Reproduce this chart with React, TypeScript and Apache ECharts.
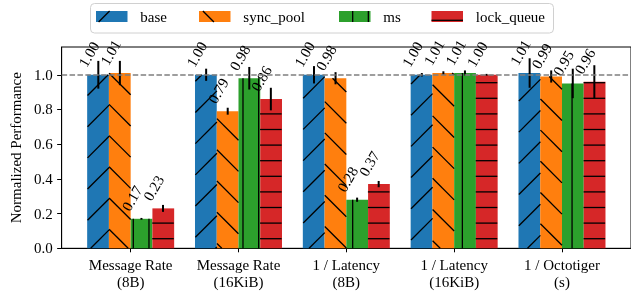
import React, { useEffect, useRef } from "react";
import * as echarts from "echarts";

const categories = [
  "Message Rate\n(8B)",
  "Message Rate\n(16KiB)",
  "1 / Latency\n(8B)",
  "1 / Latency\n(16KiB)",
  "1 / Octotiger\n(s)",
];
const seriesNames = ["base", "sync_pool", "ms", "lock_queue"];
const baseValues = [1.0, 1.0, 1.0, 1.0, 1.01];
const syncPoolValues = [1.01, 0.79, 0.98, 1.01, 0.99];
const msValues = [0.17, 0.98, 0.28, 1.01, 0.95];
const lockQueueValues = [0.23, 0.86, 0.37, 1.0, 0.96];
const baseErrors = [0.08, 0.035, 0.05, 0.01, 0.085];
const syncPoolErrors = [0.07, 0.02, 0.035, 0.01, 0.035];
const msErrors = [0.005, 0.065, 0.012, 0.015, 0.085];
const lockQueueErrors = [0.02, 0.065, 0.018, 0.005, 0.095];
const yTicks = [0, 0.2, 0.4, 0.6, 0.8, 1.0];

const colors = ["#1f77b4", "#ff7f0e", "#2ca02c", "#d62728"];
const FONT = "Liberation Serif";

// hatch geometry (pixel space, anchored to page origin): [period, phase]
const HATCH = [
  [31.2, 27], // '/'
  [31.2, 26.5], // '\'
  [15.67, 7.94], // '|'
  [15.6, 4.7], // '-'
];

function hatchSegments(kind: number, x0: number, x1: number, yt: number, yb: number) {
  const [per, ph] = HATCH[kind];
  const segs: number[][] = [];
  const first = (lo: number) => ph + Math.ceil((lo - ph) / per) * per;
  if (kind === 0) {
    for (let c = first(x0 + yt); c <= x1 + yb; c += per) {
      const xa = Math.max(x0, c - yb);
      const xb = Math.min(x1, c - yt);
      if (xb > xa) segs.push([xa, c - xa, xb, c - xb]);
    }
  } else if (kind === 1) {
    for (let c = first(yt - x1); c <= yb - x0; c += per) {
      const xa = Math.max(x0, yt - c);
      const xb = Math.min(x1, yb - c);
      if (xb > xa) segs.push([xa, c + xa, xb, c + xb]);
    }
  } else if (kind === 2) {
    for (let x = first(x0); x <= x1; x += per) segs.push([x, yt, x, yb]);
  } else {
    for (let y = first(yt); y <= yb; y += per) segs.push([x0, y, x1, y]);
  }
  return segs;
}

// legend layout (pixels)
const legendLeft = [96, 199, 339, 431.5];
const legendTop = 11;
const legendIconW = 31.5;
const legendIconH = 11;
const legendTextGap = 12.8;

export default function App() {
  const ref = useRef<HTMLDivElement>(null);
  useEffect(() => {
    if (!ref.current) return;
    const chart = echarts.init(ref.current, null, { renderer: "svg" });
    const values = [baseValues, syncPoolValues, msValues, lockQueueValues];
    const errors = [baseErrors, syncPoolErrors, msErrors, lockQueueErrors];
    const barWidth = 21.75;
    const errData: any[] = [];
    values.forEach((vals, s) => {
      vals.forEach((v, i) => {
        errData.push([i + (s - 1.5) * 0.2, v, errors[s][i], s]);
      });
    });
    const barSeries = values.map((vals, s) => ({
      name: seriesNames[s],
      type: "bar",
      barWidth,
      barGap: "0%",
      data: vals.map((v, i) => [i, v]),
      itemStyle: { color: colors[s] },
      markLine:
        s === 0
          ? {
              silent: true,
              symbol: "none",
              label: { show: false },
              lineStyle: { type: [5.5, 2.4], color: "#7f7f7f", width: 1.5 },
              data: [{ yAxis: 1 }],
              z: 10,
            }
          : undefined,
      z: 2,
    }));

    const legendGraphics: any[] = [
      {
        type: "rect",
        shape: { x: 90.5, y: 3.5, width: 463, height: 29.5, r: 4 },
        style: { fill: "#fff", stroke: "#d0d0d0", lineWidth: 1 },
        z: 1,
        silent: true,
      },
    ];
    seriesNames.forEach((name, s) => {
      const x0 = legendLeft[s];
      legendGraphics.push({
        type: "rect",
        shape: { x: x0, y: legendTop, width: legendIconW, height: legendIconH },
        style: { fill: colors[s] },
        z: 2,
        silent: true,
      });
      hatchSegments(s, x0, x0 + legendIconW, legendTop, legendTop + legendIconH).forEach((g) =>
        legendGraphics.push({
          type: "line",
          shape: { x1: g[0], y1: g[1], x2: g[2], y2: g[3] },
          style: { stroke: "#000", lineWidth: 1.3 },
          z: 3,
          silent: true,
        })
      );
      legendGraphics.push({
        type: "text",
        x: x0 + legendIconW + legendTextGap,
        y: legendTop + legendIconH / 2,
        style: {
          text: name,
          fontFamily: FONT,
          fontSize: 15,
          fill: "#000",
          align: "left",
          verticalAlign: "middle",
        },
        z: 3,
        silent: true,
      });
    });

    chart.setOption({
      animation: false,
      graphic: legendGraphics,
      grid: {
        left: 59.7,
        top: 47,
        width: 574.2,
        height: 201.3,
        show: true,
        borderColor: "#000",
        borderWidth: 1,
        containLabel: false,
      },
      xAxis: {
        type: "value",
        min: -0.64,
        max: 4.64,
        axisLine: { show: true, onZero: false, lineStyle: { color: "#000", width: 1 } },
        axisTick: {
          show: true,
          length: 4,
          lineStyle: { color: "#000" },
          customValues: [0, 1, 2, 3, 4],
        },
        splitLine: { show: false },
        axisLabel: {
          customValues: [0, 1, 2, 3, 4],
          formatter: (v: number) => categories[Math.round(v)] ?? "",
          fontFamily: FONT,
          fontSize: 15,
          color: "#000",
          lineHeight: 17,
          margin: 8,
        },
      },
      yAxis: {
        type: "value",
        min: 0,
        max: 1.16,
        name: "Normalized Performance",
        nameLocation: "middle",
        nameGap: 36,
        nameTextStyle: { fontFamily: FONT, fontSize: 15, color: "#000" },
        axisLine: { show: true, onZero: false, lineStyle: { color: "#000", width: 1 } },
        axisTick: {
          show: true,
          length: 4.5,
          lineStyle: { color: "#000" },
          customValues: yTicks,
        },
        splitLine: { show: false },
        axisLabel: {
          customValues: yTicks,
          formatter: (v: number) => v.toFixed(1),
          fontFamily: FONT,
          fontSize: 15,
          color: "#000",
          margin: 9,
        },
      },
      series: [
        ...barSeries,
        {
          type: "custom",
          name: "hatch",
          data: errData,
          z: 3,
          silent: true,
          renderItem: (params: any, api: any) => {
            const x = api.value(0);
            const v = api.value(1);
            const s = api.value(3);
            const p0 = api.coord([x - 0.1, v]);
            const p1 = api.coord([x + 0.1, 0]);
            const segs = hatchSegments(s, p0[0], p1[0], p0[1], p1[1]);
            return {
              type: "group",
              children: segs.map((g) => ({
                type: "line",
                shape: { x1: g[0], y1: g[1], x2: g[2], y2: g[3] },
                style: { stroke: "#000", lineWidth: 1.3 },
              })),
            };
          },
        },
        {
          type: "custom",
          name: "errors",
          data: errData,
          z: 5,
          renderItem: (params: any, api: any) => {
            const x = api.value(0);
            const v = api.value(1);
            const e = api.value(2);
            const top = api.coord([x, v + e]);
            const bot = api.coord([x, v - e]);
            const barTop = api.coord([x, v]);
            return {
              type: "group",
              children: [
                {
                  type: "line",
                  shape: { x1: top[0], y1: top[1], x2: bot[0], y2: bot[1] },
                  style: { stroke: "#000", lineWidth: 2 },
                },
                {
                  type: "text",
                  x: barTop[0] - 11.5,
                  y: barTop[1] - 6.5,
                  rotation: Math.PI / 3,
                  style: {
                    text: v.toFixed(2),
                    x: 0,
                    y: -5,
                    align: "left",
                    verticalAlign: "middle",
                    fontFamily: FONT,
                    fontSize: 15,
                    fill: "#000",
                  },
                },
              ],
            };
          },
        },
      ],
    });
    return () => chart.dispose();
  }, []);
  return (
    <div
      ref={ref}
      style={{ position: "fixed", left: 0, top: 0, width: 631, height: 291 }}
    />
  );
}
